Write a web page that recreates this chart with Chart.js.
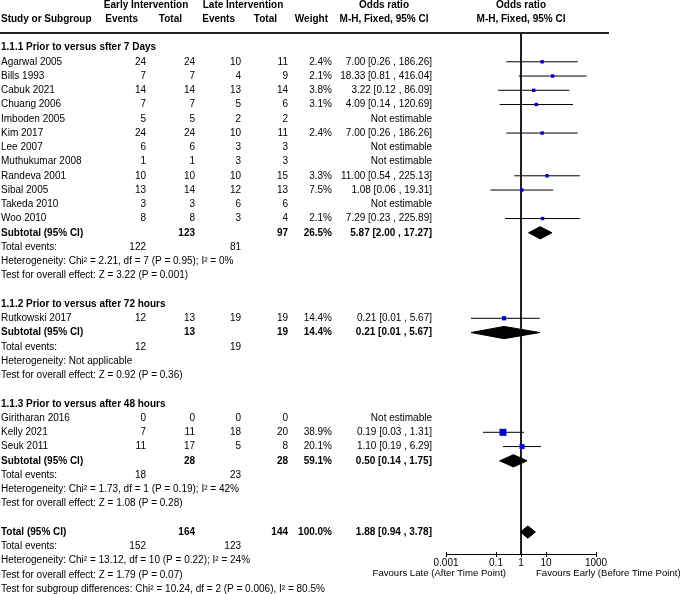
<!DOCTYPE html>
<html><head><meta charset="utf-8">
<script src="https://cdn.jsdelivr.net/npm/chart.js@4.4.1/dist/chart.umd.min.js"></script>
<style>html,body{margin:0;padding:0;background:#fff;overflow:hidden}canvas{display:block}</style>
</head><body>
<canvas id="c" width="685" height="594"></canvas>
<script>
const FONT = '"Liberation Sans", Arial, sans-serif';

// ---- data ----
const studyNames = ["Agarwal 2005","Bills 1993","Cabuk 2021","Chuang 2006","Imboden 2005","Kim 2017","Lee 2007","Muthukumar 2008","Randeva 2001","Sibal 2005","Takeda 2010","Woo 2010","Rutkowski 2017","Giritharan 2016","Kelly 2021","Seuk 2011"];
const earlyEvents = [24,7,14,7,5,24,6,1,10,13,3,8,12,0,7,11];
const earlyTotal  = [24,7,14,7,5,24,6,1,10,14,3,8,13,0,11,17];
const lateEvents  = [10,4,13,5,2,10,3,3,10,12,6,3,19,0,18,5];
const lateTotal   = [11,9,14,6,2,11,3,3,15,13,6,4,19,0,20,8];
const weights     = [2.4,2.1,3.8,3.1,null,2.4,null,null,3.3,7.5,null,2.1,14.4,null,38.9,20.1];
const oddsRatio   = [7.00,18.33,3.22,4.09,null,7.00,null,null,11.00,1.08,null,7.29,0.21,null,0.19,1.10];
const ciLow       = [0.26,0.81,0.12,0.14,null,0.26,null,null,0.54,0.06,null,0.23,0.01,null,0.03,0.19];
const ciHigh      = [186.26,416.04,86.09,120.69,null,186.26,null,null,225.13,19.31,null,225.89,5.67,null,1.31,6.29];

const groupTitles = ["1.1.1 Prior to versus sfter 7 Days","1.1.2 Prior to versus after 72 hours","1.1.3 Prior to versus after 48 hours"];
const groupMembers = [[0,1,2,3,4,5,6,7,8,9,10,11],[12],[13,14,15]];
const subTotalEarly = [123,13,28];
const subTotalLate  = [97,19,28];
const subWeight     = [26.5,14.4,59.1];
const subOR         = [5.87,0.21,0.50];
const subLow        = [2.00,0.01,0.14];
const subHigh       = [17.27,5.67,1.75];
const subEventsEarly = [122,12,18];
const subEventsLate  = [81,19,23];
const subHetero = ["Heterogeneity: Chi² = 2.21, df = 7 (P = 0.95); I² = 0%","Heterogeneity: Not applicable","Heterogeneity: Chi² = 1.73, df = 1 (P = 0.19); I² = 42%"];
const subEffect = ["Test for overall effect: Z = 3.22 (P = 0.001)","Test for overall effect: Z = 0.92 (P = 0.36)","Test for overall effect: Z = 1.08 (P = 0.28)"];

const totalEarly = 164, totalLate = 144, totalWeight = 100.0;
const totalOR = 1.88, totalLow = 0.94, totalHigh = 3.78;
const totalEventsEarly = 152, totalEventsLate = 123;
const totalTexts = ["Heterogeneity: Chi² = 13.12, df = 10 (P = 0.22); I² = 24%","Test for overall effect: Z = 1.79 (P = 0.07)","Test for subgroup differences: Chi² = 10.24, df = 2 (P = 0.006), I² = 80.5%"];

const tickValues = [0.001,0.1,1,10,1000];
const tickLabels = ["0.001","0.1","1","10","1000"];
const favourLeft = "Favours Late (After Time Point)";
const favourRight = "Favours Early (Before Time Point)";

// ---- row layout ----
const studyRow = [];
const groupRow = [], subRow = [];
let r = 0;
groupMembers.forEach((mem, g) => {
  groupRow.push(r); r++;
  mem.forEach(i => { studyRow[i] = r; r++; });
  subRow.push(r); r += 5;
});
const totalRow = r;

const fmt = v => v.toFixed(2);
const ciText = (o,l,h) => `${fmt(o)} [${fmt(l)} , ${fmt(h)}]`;

// ---- datasets ----
const datasets = [];
// null line at OR = 1
datasets.push({type:'line', data:[{x:1,y:-1.02},{x:1,y:35.54}], borderColor:'#000', borderWidth:1, pointRadius:0, order:3, clip:false});
// CI lines
studyNames.forEach((n,i) => {
  if (oddsRatio[i] == null) return;
  datasets.push({type:'line', data:[{x:ciLow[i],y:studyRow[i]},{x:ciHigh[i],y:studyRow[i]}], borderColor:'#000', borderWidth:1, pointRadius:0, order:2});
});
// squares (size grows with weight)
const pts = [], radii = [];
studyNames.forEach((n,i) => {
  if (oddsRatio[i] == null) return;
  pts.push({x:oddsRatio[i], y:studyRow[i]});
  const side = Math.max(3.4, Math.sqrt(weights[i]) * 1.12);
  radii.push(side / (2 * Math.SQRT1_2));
});
datasets.push({type:'scatter', data:pts, pointStyle:'rect', pointRadius:radii, backgroundColor:'#0000cc', borderColor:'#0000cc', borderWidth:0, order:0});
// diamonds
const DH = 0.43;
function diamond(o,l,h,row){
  return {type:'line', data:[{x:l,y:row},{x:o,y:row-DH},{x:h,y:row},{x:o,y:row+DH},{x:l,y:row}], borderColor:'#000', backgroundColor:'#000', borderWidth:1, pointRadius:0, fill:'shape', tension:0, order:1};
}
subOR.forEach((o,g) => datasets.push(diamond(o, subLow[g], subHigh[g], subRow[g])));
datasets.push(diamond(totalOR, totalLow, totalHigh, totalRow));

// ---- table plugin ----
const tablePlugin = {
  id:'forestTable',
  afterDraw(chart){
    const ctx = chart.ctx, ys = chart.scales.y, xs = chart.scales.x;
    const py = v => ys.getPixelForValue(v);
    ctx.save();
    ctx.textBaseline = 'middle';
    ctx.fillStyle = '#000';
    const t = (s, x, row, align, bold) => {
      ctx.font = (bold ? 'bold ' : '') + '10px ' + FONT;
      ctx.textAlign = align || 'left';
      ctx.fillText(String(s), x, py(row));
    };
    const X = {name:1, ee:146, et:195, le:241, lt:288, w:332, ci:432};
    // headers
    const hA = -2.95, hB = -1.95;
    t("Early Intervention", 146, hA, 'center', true);
    t("Late Intervention", 243, hA, 'center', true);
    t("Odds ratio", 384, hA, 'center', true);
    t("Odds ratio", 521, hA, 'center', true);
    t("Study or Subgroup", X.name, hB, 'left', true);
    t("Events", 138, hB, 'right', true);
    t("Total", 182, hB, 'right', true);
    t("Events", 235, hB, 'right', true);
    t("Total", 277, hB, 'right', true);
    t("Weight", 328, hB, 'right', true);
    t("M-H, Fixed, 95% CI", 384, hB, 'center', true);
    t("M-H, Fixed, 95% CI", 521, hB, 'center', true);
    // header rule
    ctx.strokeStyle = '#222'; ctx.lineWidth = 2;
    ctx.beginPath(); ctx.moveTo(0, py(-1.02)); ctx.lineTo(609, py(-1.02)); ctx.stroke();

    groupMembers.forEach((mem, g) => {
      t(groupTitles[g], X.name, groupRow[g], 'left', true);
      mem.forEach(i => {
        const row = studyRow[i];
        t(studyNames[i], X.name, row);
        t(earlyEvents[i], X.ee, row, 'right');
        t(earlyTotal[i], X.et, row, 'right');
        t(lateEvents[i], X.le, row, 'right');
        t(lateTotal[i], X.lt, row, 'right');
        if (oddsRatio[i] == null) {
          t("Not estimable", X.ci, row, 'right');
        } else {
          t(weights[i].toFixed(1) + "%", X.w, row, 'right');
          t(ciText(oddsRatio[i], ciLow[i], ciHigh[i]), X.ci, row, 'right');
        }
      });
      const s = subRow[g];
      t("Subtotal (95% CI)", X.name, s, 'left', true);
      t(subTotalEarly[g], X.et, s, 'right', true);
      t(subTotalLate[g], X.lt, s, 'right', true);
      t(subWeight[g].toFixed(1) + "%", X.w, s, 'right', true);
      t(ciText(subOR[g], subLow[g], subHigh[g]), X.ci, s, 'right', true);
      t("Total events:", X.name, s+1);
      t(subEventsEarly[g], X.ee, s+1, 'right');
      t(subEventsLate[g], X.le, s+1, 'right');
      t(subHetero[g], X.name, s+2);
      t(subEffect[g], X.name, s+3);
    });
    const T = totalRow;
    t("Total (95% CI)", X.name, T, 'left', true);
    t(totalEarly, X.et, T, 'right', true);
    t(totalLate, X.lt, T, 'right', true);
    t(totalWeight.toFixed(1) + "%", X.w, T, 'right', true);
    t(ciText(totalOR, totalLow, totalHigh), X.ci, T, 'right', true);
    t("Total events:", X.name, T+1);
    t(totalEventsEarly, X.ee, T+1, 'right');
    t(totalEventsLate, X.le, T+1, 'right');
    totalTexts.forEach((s, k) => t(s, X.name, T+2+k));

    // small tick extensions above the axis line
    const yb = chart.chartArea.bottom;
    ctx.strokeStyle = '#000'; ctx.lineWidth = 1;
    tickValues.forEach(v => {
      const px = Math.round(xs.getPixelForValue(v)) + 0.5;
      ctx.beginPath(); ctx.moveTo(px, yb - 2); ctx.lineTo(px, yb); ctx.stroke();
    });

    // favours labels
    const x1 = xs.getPixelForValue(1);
    ctx.font = '9.6px ' + FONT;
    ctx.textAlign = 'right';
    ctx.fillText(favourLeft, x1 - 15, yb + 19);
    ctx.textAlign = 'left';
    ctx.fillText(favourRight, x1 + 15, yb + 19);
    ctx.restore();
  }
};

new Chart(document.getElementById('c'), {
  type:'scatter',
  data:{datasets},
  options:{
    responsive:false, animation:false, devicePixelRatio:1,
    layout:{padding:{left:446, right:89, top:33, bottom:0}},
    plugins:{legend:{display:false}, tooltip:{enabled:false}},
    scales:{
      x:{type:'logarithmic', min:0.001, max:1000, position:'bottom',
        afterFit: s => { s.height = 40; },
        afterBuildTicks: s => { s.ticks = tickValues.map(v => ({value:v})); },
        ticks:{autoSkip:false, maxRotation:0, padding:0, color:'#000', font:{family:FONT, size:10},
          callback:(v) => { const k = tickValues.indexOf(v); return k >= 0 ? tickLabels[k] : ''; }},
        grid:{display:true, drawOnChartArea:false, drawTicks:true, tickLength:3, color:'#000'},
        border:{display:true, color:'#000', width:1}
      },
      y:{type:'linear', reverse:true, min:-1.02, max:35.54, display:false}
    }
  },
  plugins:[tablePlugin]
});
</script>
</body></html>
